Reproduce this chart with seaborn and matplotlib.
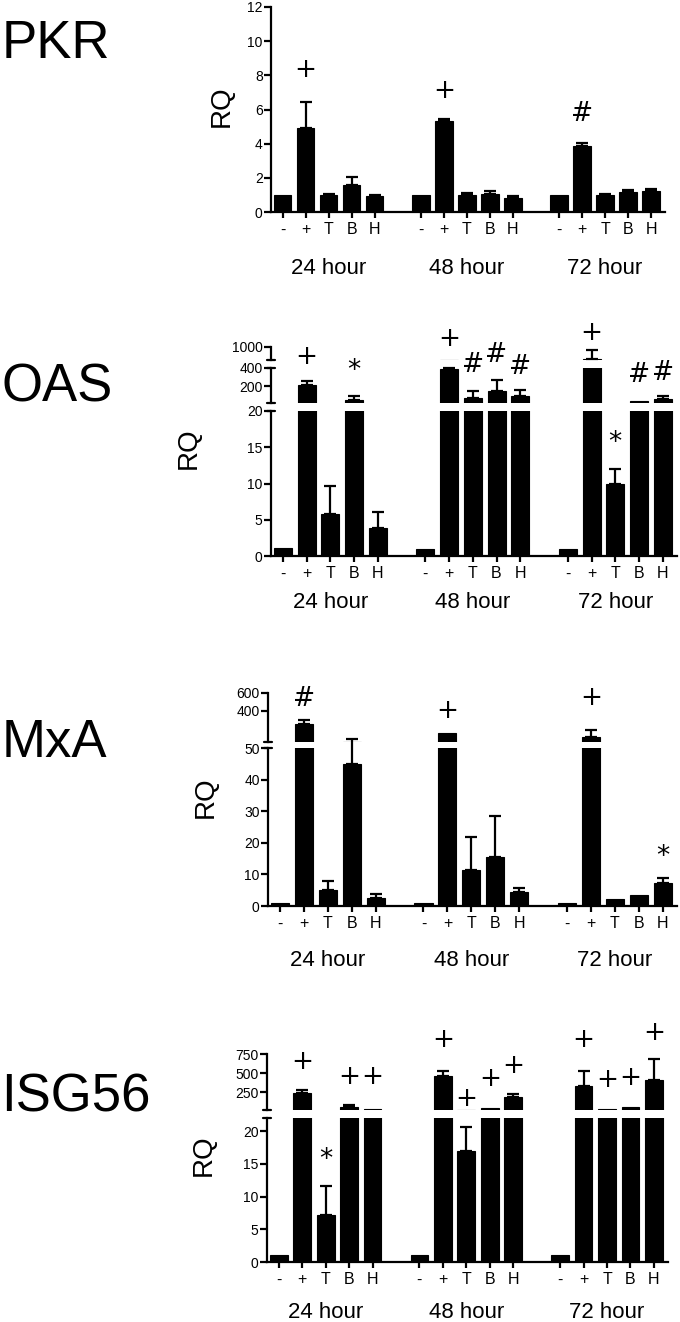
import numpy as np
import pandas as pd
import matplotlib
matplotlib.use('Agg')
import matplotlib.pyplot as plt
import seaborn as sns

groups = ['24 hour', '48 hour', '72 hour']
treatments = ['-', '+', 'T', 'B', 'H']

# RQ means and upper SEM, order: 24h (- + T B H), 48h (...), 72h (...)
pkr_rq = [1.0, 4.9, 1.0, 1.57, 0.95, 1.0, 5.32, 1.0, 1.08, 0.84, 1.0, 3.87, 1.0, 1.17, 1.23]
pkr_sem = [0, 1.56, 0.03, 0.48, 0.03, 0, 0.14, 0.14, 0.15, 0.08, 0, 0.18, 0.05, 0.14, 0.1]
pkr_marks = ['', '+', '', '', '', '', '+', '', '', '', '', '#', '', '', '']
pkr_mark_y = [0, 8.3, 0, 0, 0, 0, 7.1, 0, 0, 0, 0, 5.8, 0, 0, 0]

oas_rq = [1.05, 212, 5.8, 56, 3.8, 1.0, 393, 74, 147, 92, 1.0, 430, 10.0, 38, 63]
oas_sem = [0, 43, 3.8, 44, 2.3, 0, 5, 73, 126, 73, 0, 420, 2.0, 0, 29]
oas_marks = ['', '+', '', '*', '', '', '+', '#', '#', '#', '', '+', '*', '#', '#']
oas_mark_y = [0, 27.5, 0, 26.6, 0, 0, 30.0, 26.6, 27.9, 26.2, 0, 30.7, 16.8, 25.2, 25.5]

mxa_rq = [1.0, 251, 5.0, 45, 2.5, 1.0, 152, 11.5, 15.4, 4.4, 1.0, 107, 2.1, 3.4, 7.3]
mxa_sem = [0, 46, 2.8, 8, 1.4, 0, 0, 10.4, 13.2, 1.4, 0, 76, 0, 0, 1.7]
mxa_marks = ['', '#', '', '', '', '', '+', '', '', '', '', '+', '', '', '*']
mxa_mark_y = [0, 65.9, 0, 0, 0, 0, 61.6, 0, 0, 0, 0, 65.9, 0, 0, 18.2]

isg_rq = [1.0, 237, 7.2, 60, 32, 1.0, 463, 17.0, 50, 185, 1.0, 333, 32, 60, 411]
isg_sem = [0, 48, 4.4, 25, 0, 0, 70, 3.6, 0, 43, 0, 195, 0, 0, 269]
isg_marks = ['', '+', '*', '+', '+', '', '+', '+', '+', '+', '', '+', '+', '+', '+']
isg_mark_y = [0, 30.5, 16.8, 28.3, 28.2, 0, 33.9, 24.9, 28.0, 30.0, 0, 33.9, 27.8, 28.1, 35.0]

W, H = 680, 1322
sns.set_style('ticks')
plt.rcParams['font.family'] = ['Liberation Sans', 'DejaVu Sans']
plt.rcParams['axes.linewidth'] = 1.6
for key in ['text.color', 'axes.labelcolor', 'axes.edgecolor', 'xtick.color', 'ytick.color']:
    plt.rcParams[key] = 'black'

# layout: pixel boxes, segments listed bottom -> top (lo, hi, top_px, bottom_px, ticks)
panels = [
    dict(name='PKR', rq=pkr_rq, sem=pkr_sem, marks=pkr_marks, mark_y=pkr_mark_y,
         x0=271, x1=665, title_y=58, rq_xy=(222, 106), group_off=57,
         segments=[(0, 12, 7, 212, [0, 2, 4, 6, 8, 10, 12])]),
    dict(name='OAS', rq=oas_rq, sem=oas_sem, marks=oas_marks, mark_y=oas_mark_y,
         x0=271, x1=677, title_y=401, rq_xy=(189, 448), group_off=47,
         segments=[(0, 20, 411, 556, [0, 5, 10, 15, 20]),
                   (20, 400, 368, 403, [200, 400]),
                   (400, 1000, 347, 360, [1000])]),
    dict(name='MxA', rq=mxa_rq, sem=mxa_sem, marks=mxa_marks, mark_y=mxa_mark_y,
         x0=268, x1=677, title_y=757, rq_xy=(206, 797), group_off=55,
         segments=[(0, 50, 748, 906, [0, 10, 20, 30, 40, 50]),
                   (50, 600, 693, 742, [400, 600])]),
    dict(name='ISG56', rq=isg_rq, sem=isg_sem, marks=isg_marks, mark_y=isg_mark_y,
         x0=267, x1=668, title_y=1111, rq_xy=(204, 1155), group_off=50,
         segments=[(0, 22, 1118, 1262, [0, 5, 10, 15, 20]),
                   (20, 750, 1054, 1110, [250, 500, 750])]),
]

nudge = {'+': 0, '#': -1, '*': -6}
pos = np.array([g * 6 + t for g in range(len(groups)) for t in range(len(treatments))])

fig = plt.figure(figsize=(W / 100, H / 100), dpi=100)

for p in panels:
    rq = np.array(p['rq'], dtype=float)
    sem = np.array(p['sem'], dtype=float)
    df = pd.DataFrame({'pos': pos, 'RQ': rq})
    segs = p['segments']
    for k, (lo, hi, top, bottom, ticks) in enumerate(segs):
        ax = fig.add_axes([p['x0'] / W, 1 - bottom / H,
                           (p['x1'] - p['x0']) / W, (bottom - top) / H])
        ax.patch.set_visible(False)
        sns.barplot(data=df, x='pos', y='RQ', native_scale=True, color='black',
                    saturation=1, edgecolor='black', linewidth=0.8, width=0.76,
                    errorbar=None, ax=ax)
        sel = (rq >= lo) & (rq < hi) & (sem > 0)
        eb = ax.errorbar(pos[sel], rq[sel], yerr=[np.zeros(sel.sum()), sem[sel]],
                         fmt='none', ecolor='black', elinewidth=1.6,
                         capsize=4, capthick=1.6)
        for a in list(eb.lines[1]) + list(eb.lines[2]):
            a.set_clip_on(False)
        ax.set_xlim(-0.5, 16.6)
        ax.set_ylim(lo, hi)
        ax.set_yticks(ticks)
        ax.set_xlabel('')
        ax.set_ylabel('')
        sns.despine(ax=ax)
        ax.tick_params(axis='y', length=5, width=1.6, pad=1, labelsize=10)
        if k < len(segs) - 1:
            ax.plot([-0.011, 0.011], [1, 1], transform=ax.transAxes,
                    color='black', lw=1.6, clip_on=False)
        if k > 0:
            ax.plot([-0.011, 0.011], [0, 0], transform=ax.transAxes,
                    color='black', lw=1.6, clip_on=False)
            ax.spines['bottom'].set_visible(False)
            ax.set_xticks([])
        else:
            ax.set_xticks(pos)
            ax.set_xticklabels(treatments * len(groups))
            ax.tick_params(axis='x', length=4.5, width=1.6, pad=3, labelsize=11.5)
            for g, name in enumerate(groups):
                ax.annotate(name, xy=(g * 6 + 2, 0), xycoords=('data', 'axes fraction'),
                            xytext=(0, -p['group_off'] * 0.72), textcoords='offset points',
                            ha='center', va='center', fontsize=16)
            for x, m, y in zip(pos, p['marks'], p['mark_y']):
                if m:
                    ax.annotate(m, xy=(x, y), xytext=(0, nudge[m]), textcoords='offset points',
                                ha='center', va='center', fontsize=19, zorder=10,
                                family='DejaVu Sans', annotation_clip=False)
    fig.text(0.002, 1 - p['title_y'] / H, p['name'], fontsize=38, va='baseline', ha='left')
    fig.text(p['rq_xy'][0] / W, 1 - p['rq_xy'][1] / H, 'RQ', fontsize=20,
             rotation=90, ha='center', va='center')

fig.savefig('out.png', dpi=100)
